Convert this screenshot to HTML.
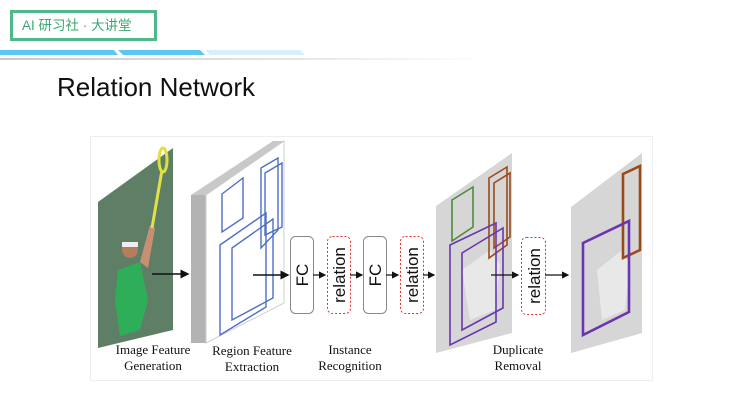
<!DOCTYPE html>
<html><head><meta charset="utf-8"><style>
html,body{margin:0;padding:0;background:#fff;width:735px;height:403px;overflow:hidden}
svg{display:block}
</style></head><body>
<svg width="735" height="403" viewBox="0 0 735 403" xmlns="http://www.w3.org/2000/svg">
<defs>
<linearGradient id="gl" x1="0" x2="1"><stop offset="0" stop-color="#c8c8c8"/><stop offset="0.6" stop-color="#e6e6e6"/><stop offset="1" stop-color="#fff"/></linearGradient>
<marker id="ah" markerWidth="6" markerHeight="6" refX="5" refY="3" orient="auto"><path d="M0,0 L6,3 L0,6 z" fill="#111"/></marker>
</defs>
<!-- header -->
<rect x="11.5" y="11.5" width="144" height="28" fill="#fff" stroke="#4fb98a" stroke-width="3"/>
<text x="22" y="30" font-family="'Liberation Sans','Noto Sans CJK SC',sans-serif" font-size="13.5" fill="#3aa873">AI 研习社 · 大讲堂</text>
<polygon points="0,50 114,50 118,55 0,55" fill="#5cc8ef"/>
<polygon points="118,50 200,50 205,55 123,55" fill="#5cc8ef"/>
<polygon points="205,50 300,50 305,55 210,55" fill="#d6eff9"/>
<rect x="0" y="58" width="490" height="2" fill="url(#gl)"/>
<text x="57" y="96" font-family="'Liberation Sans',sans-serif" font-size="26" fill="#111">Relation Network</text>
<!-- frame -->
<rect x="90.5" y="136.5" width="562" height="244" fill="none" stroke="#eeeeee"/>
<!-- photo -->
<polygon points="98,202 173,148 173,330 98,348" fill="#5e7f66"/>
<polygon points="118,270 140,262 148,300 140,330 120,336 115,300" fill="#2fae5a"/>
<circle cx="130" cy="250" r="8" fill="#b57d5e"/>
<rect x="122" y="242" width="16" height="5" fill="#eee"/>
<polygon points="140,262 150,225 155,228 148,268" fill="#c79072"/>
<line x1="152" y1="228" x2="162" y2="170" stroke="#e4e04a" stroke-width="3"/>
<ellipse cx="163" cy="160" rx="4" ry="12" fill="none" stroke="#dde040" stroke-width="3"/>
<line x1="152" y1="274" x2="188" y2="274" stroke="#111" stroke-width="1.5" marker-end="url(#ah)"/>
<!-- feature block -->
<polygon points="191,195 273,141 284,141 206,195" fill="#c8c8c8"/>
<polygon points="191,195 206,195 206,343 191,343" fill="#b3b3b3"/>
<polygon points="206,195 284,141 284,303 206,343" fill="#fff" stroke="#cfcfcf"/>
<g fill="none" stroke="#4d6fc4" stroke-width="1.4">
<polygon points="222,194 243,178 243,218 222,232"/>
<polygon points="261,168 278,158 278,230 261,248"/>
<polygon points="265,173 282,163 282,227 265,235"/>
<polygon points="220,245 266,213 266,307 220,335"/>
<polygon points="232,248 273,219 273,298 232,320"/>
</g>
<line x1="253" y1="275" x2="288" y2="275" stroke="#111" stroke-width="1.5" marker-end="url(#ah)"/>
<!-- FC/relation -->
<g font-family="'Liberation Sans',sans-serif" font-size="17" fill="#111" text-anchor="middle">
<rect x="290.5" y="236.5" width="23" height="77" rx="5" fill="#fff" stroke="#888"/>
<text transform="translate(308,275) rotate(-90)">FC</text>
<line x1="313" y1="275" x2="325" y2="275" stroke="#111" stroke-width="1.2" marker-end="url(#ah)"/>
<rect x="327.5" y="236.5" width="23" height="77" rx="5" fill="#fff" stroke="#e03030" stroke-dasharray="2,2"/>
<text transform="translate(345,275) rotate(-90)">relation</text>
<line x1="350" y1="275" x2="362" y2="275" stroke="#111" stroke-width="1.2" marker-end="url(#ah)"/>
<rect x="363.5" y="236.5" width="23" height="77" rx="5" fill="#fff" stroke="#888"/>
<text transform="translate(381,275) rotate(-90)">FC</text>
<line x1="386" y1="275" x2="398" y2="275" stroke="#111" stroke-width="1.2" marker-end="url(#ah)"/>
<rect x="400.5" y="236.5" width="23" height="77" rx="5" fill="#fff" stroke="#e03030" stroke-dasharray="2,2"/>
<text transform="translate(418,275) rotate(-90)">relation</text>
<line x1="423" y1="275" x2="434" y2="275" stroke="#111" stroke-width="1.2" marker-end="url(#ah)"/>
<!-- image2 -->
<polygon points="436,206 512,153 512,333 436,353" fill="#d6d6d6"/>
<polygon points="462,270 490,250 500,265 495,310 470,320" fill="#e8e8e8"/>
<g fill="none" stroke-width="1.6">
<polygon points="452,200 473,187 473,227 452,241" stroke="#4f8a3a"/>
<polygon points="489,178 507,167 507,245 489,258" stroke="#9c4a1a"/>
<polygon points="494,183 510,173 510,237 494,248" stroke="#9c4a1a"/>
<polygon points="450,245 496,223 496,322 450,345" stroke="#6a35b0"/>
<polygon points="462,253 503,228 503,308 462,330" stroke="#6a35b0"/>
</g>
<line x1="491" y1="275" x2="518" y2="275" stroke="#111" stroke-width="1.2" marker-end="url(#ah)"/>
<rect x="521.5" y="237.5" width="24" height="77" rx="5" fill="#fff" stroke="#e03030" stroke-dasharray="2,2"/>
<text transform="translate(540,276) rotate(-90)">relation</text>
<line x1="545" y1="275" x2="568" y2="275" stroke="#111" stroke-width="1.2" marker-end="url(#ah)"/>
<!-- image3 -->
<polygon points="571,207 642,153 642,333 571,353" fill="#d6d6d6"/>
<polygon points="597,270 622,250 630,265 625,310 602,320" fill="#e8e8e8"/>
<g fill="none" stroke-width="2.6">
<polygon points="623,174 640,166 640,250 623,258" stroke="#9c4a1a"/>
<polygon points="583,243 629,221 629,312 583,335" stroke="#6a35b0"/>
</g>
</g>
<!-- labels -->
<g font-family="'Liberation Serif',serif" font-size="13" fill="#111" text-anchor="middle">
<text x="153" y="354">Image Feature</text><text x="153" y="370">Generation</text>
<text x="252" y="355">Region Feature</text><text x="252" y="371">Extraction</text>
<text x="350" y="354">Instance</text><text x="350" y="370">Recognition</text>
<text x="518" y="354">Duplicate</text><text x="518" y="370">Removal</text>
</g>
</svg>
</body></html>
